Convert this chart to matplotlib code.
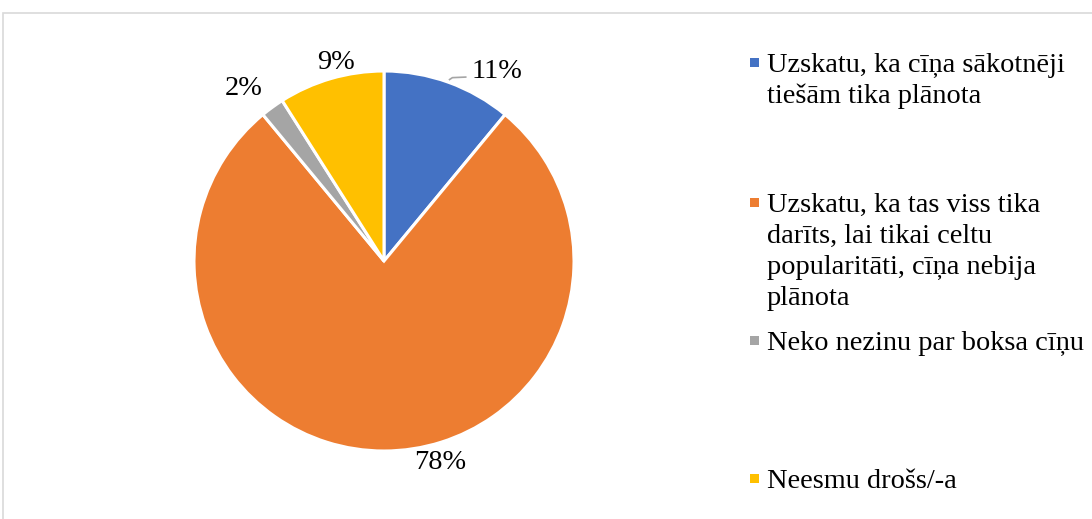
import matplotlib
matplotlib.use("Agg")
import matplotlib.pyplot as plt
from matplotlib.patches import Rectangle

plt.rcParams['font.family'] = ['Liberation Serif', 'DejaVu Serif']

categories = [
    "Uzskatu, ka cīņa sākotnēji\ntiešām tika plānota",
    "Uzskatu, ka tas viss tika\ndarīts, lai tikai celtu\npopularitāti, cīņa nebija\nplānota",
    "Neko nezinu par boksa cīņu",
    "Neesmu drošs/-a",
]
values = [11, 78, 2, 9]
labels = ["11%", "78%", "2%", "9%"]
colors = ["#4472C4", "#ED7D31", "#A5A5A5", "#FFC000"]

W, H = 1092, 519
fig = plt.figure(figsize=(W / 100, H / 100), dpi=100)

# chart frame
fig.patches.append(Rectangle((3 / W, -0.1), 1.2, 1 - 13 / H + 0.1, transform=fig.transFigure,
                             fill=False, edgecolor="#D9D9D9", linewidth=1.2))

cx, cy, r = 384, 261, 190
ax = fig.add_axes([(cx - r) / W, (H - cy - r) / H, 2 * r / W, 2 * r / H])
wedges, _ = ax.pie(values, colors=colors, startangle=90, counterclock=False,
                   wedgeprops=dict(edgecolor="white", linewidth=2.2))
ax.set_xlim(-1, 1)
ax.set_ylim(-1, 1)
ax.set_aspect("equal")
ax.axis("off")

label_pos = [(0.595, 1.0), (0.295, -1.06), (-0.737, 0.91), (-0.253, 1.045)]
fs = 20.4
for lab, (x, y) in zip(labels, label_pos):
    ax.text(x, y, lab, ha="center", va="center", fontsize=fs, color="#000000", clip_on=False)
# leader line for 11%
ax.plot([0.345, 0.36, 0.43], [0.955, 0.965, 0.968], color="#A5A5A5", linewidth=1.2, clip_on=False)

# legend
baselines = [72, 212, 350, 488]
line_step = 31
for cat, col, b in zip(categories, colors, baselines):
    fig.patches.append(Rectangle(((754 - 4.5) / W, (H - (b - 9.5) - 4.5) / H), 9 / W, 9 / H,
                                 transform=fig.transFigure, facecolor=col, edgecolor="none"))
    for i, line in enumerate(cat.split("\n")):
        fig.text(767 / W, (H - b - i * line_step) / H, line, ha="left", va="baseline",
                 fontsize=fs, color="#000000")

fig.savefig("out.png", dpi=100)
